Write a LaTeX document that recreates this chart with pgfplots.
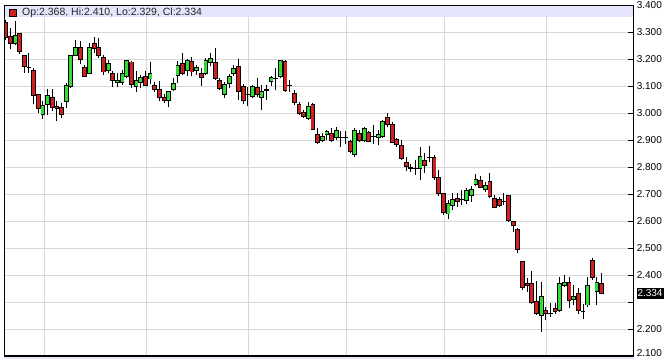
\documentclass[border=0pt]{standalone}
\usepackage{pgfplots}
\pgfplotsset{compat=1.18}
\usepackage{pgfplotstable}
\usepackage{fontspec}
\setmainfont{Liberation Sans}
\definecolor{cred}{RGB}{208,32,32}
\definecolor{cgreen}{RGB}{50,220,50}
\definecolor{gridc}{RGB}{216,216,216}
\definecolor{band}{RGB}{228,228,250}

% bearish (red) candles: index, open, high, low, close
\pgfplotstableread{
i O H L C
1 3.337 3.345 3.271 3.280
2 3.284 3.316 3.238 3.257
4 3.294 3.296 3.220 3.230
5 3.215 3.216 3.149 3.174
6 3.171 3.223 3.149 3.170
7 3.158 3.168 3.034 3.067
8 3.069 3.069 3.001 3.017
11 3.059 3.091 3.010 3.022
12 3.026 3.045 2.971 3.017
13 3.022 3.038 2.983 2.995
17 3.242 3.269 3.183 3.198
18 3.170 3.180 3.133 3.137
20 3.260 3.281 3.223 3.239
21 3.244 3.279 3.205 3.215
22 3.207 3.215 3.143 3.153
24 3.146 3.156 3.096 3.122
28 3.190 3.195 3.094 3.108
31 3.137 3.156 3.100 3.104
33 3.104 3.116 3.079 3.089
34 3.087 3.121 3.044 3.059
35 3.060 3.071 3.038 3.047
39 3.183 3.223 3.141 3.149
41 3.193 3.207 3.137 3.153
43 3.149 3.168 3.100 3.133
46 3.189 3.241 3.123 3.130
47 3.120 3.131 3.086 3.093
51 3.174 3.200 3.049 3.080
52 3.098 3.108 3.033 3.046
53 3.069 3.098 3.028 3.068
55 3.096 3.131 3.061 3.070
57 3.087 3.105 3.049 3.086
59 3.128 3.168 3.086 3.127
61 3.191 3.197 3.080 3.086
62 3.103 3.123 3.080 3.102
63 3.074 3.086 3.031 3.041
64 3.033 3.043 2.994 3.000
65 3.003 3.012 2.981 2.989
67 3.033 3.038 2.938 2.941
68 2.920 2.944 2.885 2.893
71 2.924 2.944 2.893 2.900
73 2.911 2.934 2.876 2.910
74 2.912 2.934 2.885 2.911
75 2.897 2.901 2.852 2.858
77 2.926 2.938 2.894 2.901
79 2.930 2.934 2.893 2.897
80 2.914 2.957 2.885 2.913
83 2.986 3.000 2.950 2.958
84 2.959 2.969 2.889 2.893
85 2.904 2.910 2.876 2.886
86 2.879 2.901 2.827 2.833
87 2.818 2.838 2.786 2.802
88 2.798 2.812 2.783 2.797
89 2.797 2.827 2.771 2.796
91 2.824 2.852 2.778 2.805
92 2.838 2.879 2.821 2.837
93 2.837 2.846 2.753 2.763
94 2.763 2.790 2.694 2.704
95 2.704 2.704 2.623 2.634
98 2.685 2.704 2.654 2.673
99 2.680 2.716 2.660 2.679
103 2.750 2.768 2.722 2.726
105 2.747 2.780 2.685 2.691
106 2.685 2.697 2.648 2.652
107 2.681 2.691 2.654 2.659
108 2.674 2.704 2.660 2.673
109 2.694 2.697 2.598 2.602
110 2.598 2.601 2.560 2.586
111 2.568 2.574 2.484 2.496
112 2.450 2.454 2.346 2.356
113 2.371 2.390 2.338 2.364
114 2.370 2.417 2.294 2.298
115 2.302 2.380 2.253 2.259
117 2.271 2.284 2.234 2.259
118 2.258 2.299 2.247 2.257
119 2.278 2.296 2.257 2.265
122 2.374 2.393 2.278 2.306
124 2.333 2.352 2.257 2.269
125 2.266 2.294 2.237 2.265
127 2.454 2.463 2.383 2.393
129 2.368 2.410 2.329 2.334
}\redtab

% bullish (green) candles: index, open, high, low, close
\pgfplotstableread{
i O H L C
3 3.257 3.342 3.253 3.289
9 2.997 3.047 2.980 3.030
10 3.034 3.091 2.995 3.067
14 3.044 3.112 3.020 3.104
15 3.100 3.217 3.094 3.215
16 3.215 3.273 3.211 3.244
19 3.149 3.260 3.146 3.242
23 3.158 3.198 3.149 3.183
25 3.113 3.149 3.097 3.121
26 3.115 3.162 3.106 3.149
27 3.137 3.198 3.131 3.195
29 3.100 3.156 3.079 3.121
30 3.115 3.143 3.094 3.133
32 3.127 3.190 3.108 3.149
36 3.048 3.084 3.022 3.079
37 3.087 3.131 3.081 3.112
38 3.141 3.193 3.112 3.178
40 3.158 3.202 3.137 3.195
42 3.158 3.180 3.141 3.168
44 3.146 3.205 3.141 3.195
45 3.189 3.222 3.175 3.204
48 3.068 3.117 3.058 3.107
49 3.111 3.146 3.094 3.136
50 3.148 3.179 3.139 3.167
54 3.061 3.105 3.056 3.098
56 3.058 3.105 3.012 3.080
58 3.117 3.139 3.102 3.132
60 3.136 3.197 3.130 3.194
66 2.980 3.043 2.975 3.026
69 2.901 2.926 2.895 2.913
70 2.920 2.938 2.901 2.932
72 2.910 2.950 2.901 2.938
76 2.846 2.944 2.839 2.938
78 2.901 2.950 2.893 2.944
81 2.912 2.938 2.883 2.920
82 2.913 2.975 2.907 2.969
90 2.796 2.876 2.753 2.839
96 2.627 2.679 2.607 2.667
97 2.660 2.704 2.642 2.679
100 2.676 2.722 2.664 2.713
101 2.697 2.731 2.673 2.718
102 2.738 2.775 2.731 2.755
104 2.718 2.747 2.710 2.734
116 2.252 2.376 2.191 2.321
120 2.271 2.393 2.265 2.368
121 2.364 2.401 2.358 2.373
123 2.309 2.364 2.290 2.323
126 2.290 2.393 2.284 2.364
128 2.339 2.395 2.290 2.373
}\greentab

\pgfplotsset{
  wick/.style={draw=none, forget plot, error bars/.cd, y dir=plus, y explicit, error mark=none,
    error bar style={draw=black, solid, line width=1pt}},
  bodyout/.style={draw=none, forget plot, error bars/.cd, y dir=plus, y explicit, error mark=none,
    error bar style={draw=black, solid, line width=4.8pt, line cap=butt}},
  bodyin/.style={draw=none, forget plot, error bars/.cd, y dir=plus, y explicit, error mark=none,
    error bar style={draw=#1, solid, line width=3pt, line cap=butt}},
}

\begin{document}
\begin{tikzpicture}
\path[use as bounding box] (-4.7pt,-2.7pt) rectangle (661.3pt,356.3pt);
\begin{axis}[
  name=ax, at={(0,0)}, anchor=south west,
  scale only axis, width=628.6pt, height=351pt,
  xmin=0.785, xmax=135.8, ymin=2.1, ymax=3.4,
  xtick={9.29,31.26,53.10,74.24,95.20,117.19}, xticklabels={},
  x tick style={draw=none}, xmajorgrids,
  ytick={2.1,2.2,2.3,2.4,2.5,2.6,2.7,2.8,2.9,3.0,3.1,3.2,3.3,3.4},
  yticklabels={,2.200,,2.400,2.500,2.600,2.700,2.800,2.900,3.000,3.100,3.200,3.300,3.400},
  ymajorgrids,
  grid style={gridc, line width=1pt},
  ytick pos=right, yticklabel pos=right,
  tick align=inside, major tick length=5pt,
  y tick style={black, line width=0.8pt},
  axis line style={black, line width=1pt},
  ticklabel style={font=\fontsize{10}{12}\selectfont, text=black},
  extra y ticks={2.334}, extra y tick labels={2.334},
  extra y tick style={grid=none, major tick length=0pt,
    yticklabel style={fill=black, text=white, inner xsep=1pt, inner ysep=1.9pt, xshift=3pt}},
]
\fill[band] (rel axis cs:0,1) rectangle ([yshift=-12pt]rel axis cs:1,1);

% wicks
\addplot[wick] table[x=i, y=L, y error plus expr=\thisrow{H}-\thisrow{L}] {\redtab};
\addplot[wick] table[x=i, y=L, y error plus expr=\thisrow{H}-\thisrow{L}] {\greentab};
% body outlines
\addplot[bodyout] table[x=i, y expr=\thisrow{C}-0.0018, y error plus expr=\thisrow{O}-\thisrow{C}+0.0036] {\redtab};
\addplot[bodyout] table[x=i, y expr=\thisrow{O}-0.0018, y error plus expr=\thisrow{C}-\thisrow{O}+0.0036] {\greentab};
% body fills
\addplot[bodyin=cred] table[x=i, y expr=\thisrow{C}+0.0018, y error plus expr={max(\thisrow{O}-\thisrow{C}-0.0036,0)}] {\redtab};
\addplot[bodyin=cgreen] table[x=i, y expr=\thisrow{O}+0.0018, y error plus expr={max(\thisrow{C}-\thisrow{O}-0.0036,0)}] {\greentab};

\draw[fill=cred, line width=0.6pt] ([xshift=4.8pt, yshift=-4.2pt]rel axis cs:0,1) rectangle ++(6.6pt,-7pt);
\node[anchor=base west, inner sep=0pt, font=\fontsize{10.5}{12}\selectfont, text=black!85]
  at ([xshift=17.3pt, yshift=-10.2pt]rel axis cs:0,1) {Op:2.368, Hi:2.410, Lo:2.329, Cl:2.334};
\end{axis}
\fill[band] ([yshift=-0.9pt]ax.south west) rectangle ([yshift=-2.8pt]ax.south east);
\draw[line width=1pt] (ax.south west) rectangle (ax.north east);
\draw[line width=1.8pt] (ax.south west) -- (ax.south east);
\node[anchor=base west, inner sep=0pt, font=\fontsize{10}{12}\selectfont]
  at ([xshift=3.3pt, yshift=-0.6pt]ax.south east) {2.100};
\end{tikzpicture}
\end{document}
